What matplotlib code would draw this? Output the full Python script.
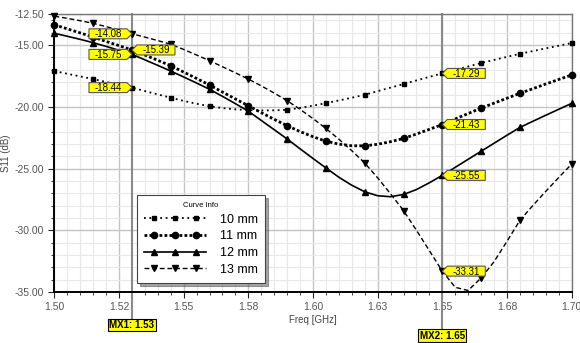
import matplotlib
matplotlib.use("Agg")
import matplotlib.pyplot as plt
import numpy as np
from matplotlib.legend_handler import HandlerLine2DCompound
from matplotlib.lines import Line2D
from matplotlib.patches import Polygon
from matplotlib.transforms import ScaledTranslation

plt.rcParams["font.family"] = ["Liberation Sans", "DejaVu Sans"]

# frequency grid (GHz), 0.005 step
freq = [1.500, 1.505, 1.510, 1.515, 1.520, 1.525, 1.530, 1.535, 1.540, 1.545,
        1.550, 1.555, 1.560, 1.565, 1.570, 1.575, 1.580, 1.585, 1.590, 1.595,
        1.600, 1.605, 1.610, 1.615, 1.620, 1.625, 1.630, 1.635, 1.640, 1.645,
        1.650, 1.655, 1.660, 1.665, 1.670, 1.675, 1.680, 1.685, 1.690, 1.695,
        1.700]

s11_10mm = [-17.10, -17.32, -17.53, -17.75, -17.98, -18.21, -18.44, -18.72, -18.99, -19.26,
            -19.52, -19.75, -19.95, -20.10, -20.20, -20.26, -20.29, -20.28, -20.24, -20.08,
            -19.90, -19.70, -19.48, -19.26, -19.02, -18.73, -18.44, -18.15, -17.86, -17.57,
            -17.29, -17.01, -16.73, -16.45, -16.20, -15.95, -15.70, -15.48, -15.26, -15.05,
            -14.83]
s11_11mm = [-13.35, -13.68, -14.01, -14.35, -14.70, -15.04, -15.39, -15.80, -16.23, -16.67,
            -17.18, -17.70, -18.23, -18.80, -19.36, -19.91, -20.47, -21.01, -21.53, -22.00,
            -22.42, -22.78, -23.02, -23.15, -23.16, -23.03, -22.82, -22.56, -22.20, -21.82,
            -21.43, -20.98, -20.54, -20.10, -19.70, -19.30, -18.90, -18.53, -18.15, -17.78,
            -17.42]
s11_12mm = [-14.04, -14.28, -14.53, -14.80, -15.10, -15.42, -15.75, -16.19, -16.64, -17.10,
            -17.58, -18.07, -18.58, -19.15, -19.74, -20.35, -21.10, -21.85, -22.60, -23.40,
            -24.18, -24.95, -25.70, -26.35, -26.88, -27.20, -27.28, -27.10, -26.70, -26.15,
            -25.55, -24.90, -24.25, -23.60, -22.95, -22.30, -21.67, -21.17, -20.68, -20.20,
            -19.72]
s11_13mm = [-12.65, -12.83, -13.02, -13.23, -13.50, -13.78, -14.08, -14.35, -14.63, -14.93,
            -15.35, -15.80, -16.26, -16.75, -17.24, -17.75, -18.30, -18.88, -19.50, -20.20,
            -20.95, -21.75, -22.62, -23.55, -24.55, -25.75, -27.05, -28.40, -30.00, -31.65,
            -33.31, -34.62, -34.88, -33.86, -32.55, -30.90, -29.20, -28.00, -26.85, -25.73,
            -24.64]

labels = ["10 mm", "11 mm", "12 mm", "13 mm"]
marker_idx = [0, 3, 6, 9, 12, 15, 18, 21, 24, 27, 30, 33, 36, 40]

mx_freq = [1.53, 1.65]
mx1_values = [-14.08, -15.39, -15.75, -18.44]
mx1_sides = ["left", "right", "left", "left"]
mx2_values = [-17.29, -21.43, -25.55, -33.31]

xticks = [1.500, 1.525, 1.550, 1.575, 1.600, 1.625, 1.650, 1.675, 1.700]
xticklabels = ["1.50", "1.52", "1.55", "1.58", "1.60", "1.63", "1.65", "1.68", "1.70"]
yticks = [-12.5, -15, -20, -25, -30, -35]


class InsetMarkers(HandlerLine2DCompound):
    # full-length line in the legend, three markers set inward from the ends
    def get_xdata(self, legend, xdescent, ydescent, width, height, fontsize):
        line_x = np.linspace(-xdescent, width - xdescent, 3)
        pad = 0.17 * width
        mark_x = np.linspace(-xdescent + pad, width - xdescent - pad, 3)
        return line_x, mark_x


fig = plt.figure(figsize=(5.8, 3.43), dpi=100)
ax = fig.add_axes([0.0938, 0.1487, 0.8917, 0.8096])

styles = [
    dict(linestyle=(0, (1, 2)), lw=1.3, marker="s", ms=3.0),
    dict(linestyle=(0, (1, 0.8)), lw=2.0, marker="o", ms=4.5),
    dict(linestyle="-", lw=1.2, marker="^", ms=4.3),
    dict(linestyle=(0, (3.5, 2)), lw=1.0, marker="v", ms=4.3),
]
handles = []
for vals, lab, st in zip([s11_10mm, s11_11mm, s11_12mm, s11_13mm], labels, styles):
    ax.plot(freq, vals, color="black", markevery=marker_idx,
            clip_on=False, zorder=3, **st)
    handles.append(Line2D([], [], color="black", label=lab, **st))

ax.set_xlim(1.5, 1.7)
ax.set_ylim(-35, -12.5)
ax.set_xticks(xticks)
ax.set_xticklabels(xticklabels)
ax.set_xticks([1.5 + 0.005 * i for i in range(41)], minor=True)
ax.set_yticks(yticks)
ax.set_yticklabels([f"{v:.2f}" for v in yticks])
ax.set_yticks(list(range(-35, -12)), minor=True)
ax.grid(which="minor", color="#e8e8e8", lw=0.8)
ax.grid(which="major", color="#c4c4c4", lw=1.0)
ax.set_axisbelow(True)
ax.tick_params(which="both", direction="out", colors="#222", labelcolor="#555",
               labelsize=7.5)
ax.tick_params(which="major", length=4)
ax.tick_params(which="minor", length=2.5)
for side in ["left", "bottom"]:
    ax.spines[side].set_color("black")
    ax.spines[side].set_linewidth(1.4)
for side in ["top", "right"]:
    ax.spines[side].set_color("#777")
    ax.spines[side].set_linewidth(1.0)

ax.set_ylabel("S11 (dB)", fontsize=7, color="#444")
ax.yaxis.set_label_coords(-0.083, 0.5)
ax.set_xlabel("Freq [GHz]", fontsize=7, color="#444", labelpad=2)

# marker lines and labels
xt = ax.get_xaxis_transform()
for i, (f, yl) in enumerate(zip(mx_freq, [-0.119, -0.157])):
    ax.plot([f, f], [1, yl], color="#8a8a8a", lw=1.5, transform=xt,
            clip_on=False, zorder=2)
    ax.text(f, yl, f"MX{i + 1}: {f:.2f}", transform=xt, ha="center", va="center",
            fontsize=7, fontweight="bold",
            bbox=dict(boxstyle="square,pad=0.15", fc="#ffff00", ec="black", lw=0.8))


def tag(x, y, text, side):
    w, h, tip = 0.38, 0.10, 0.05
    if side == "left":
        verts = [(0, 0), (-tip, h / 2), (-tip - w, h / 2), (-tip - w, -h / 2), (-tip, -h / 2)]
        cx = -tip - w / 2
    else:
        verts = [(0, 0), (tip, h / 2), (tip + w, h / 2), (tip + w, -h / 2), (tip, -h / 2)]
        cx = tip + w / 2
    trans = fig.dpi_scale_trans + ScaledTranslation(x, y, ax.transData)
    ax.add_patch(Polygon(verts, closed=True, fc="#ffff00", ec="#555", lw=0.8,
                         transform=trans, clip_on=False, zorder=5))
    ax.text(cx, -0.005, text, transform=trans, ha="center", va="center",
            fontsize=7, zorder=6)


for v, s in zip(mx1_values, mx1_sides):
    tag(mx_freq[0], v, f"{v:.2f}", s)
for v in mx2_values:
    tag(mx_freq[1], v, f"{v:.2f}", "right")

leg = ax.legend(handles=handles, loc="upper left", bbox_to_anchor=(0.236, 0.4315),
                bbox_transform=fig.transFigure, borderaxespad=0, title="Curve Info",
                title_fontsize=5.5, fontsize=9, frameon=True, fancybox=False,
                shadow=True, edgecolor="#444", handlelength=5.0,
                handler_map={Line2D: InsetMarkers()},
                labelspacing=0.38, borderpad=0.55, handletextpad=1.1)
leg.get_frame().set_linewidth(0.8)
leg.set_zorder(7)

fig.savefig("out.png", dpi=100)
